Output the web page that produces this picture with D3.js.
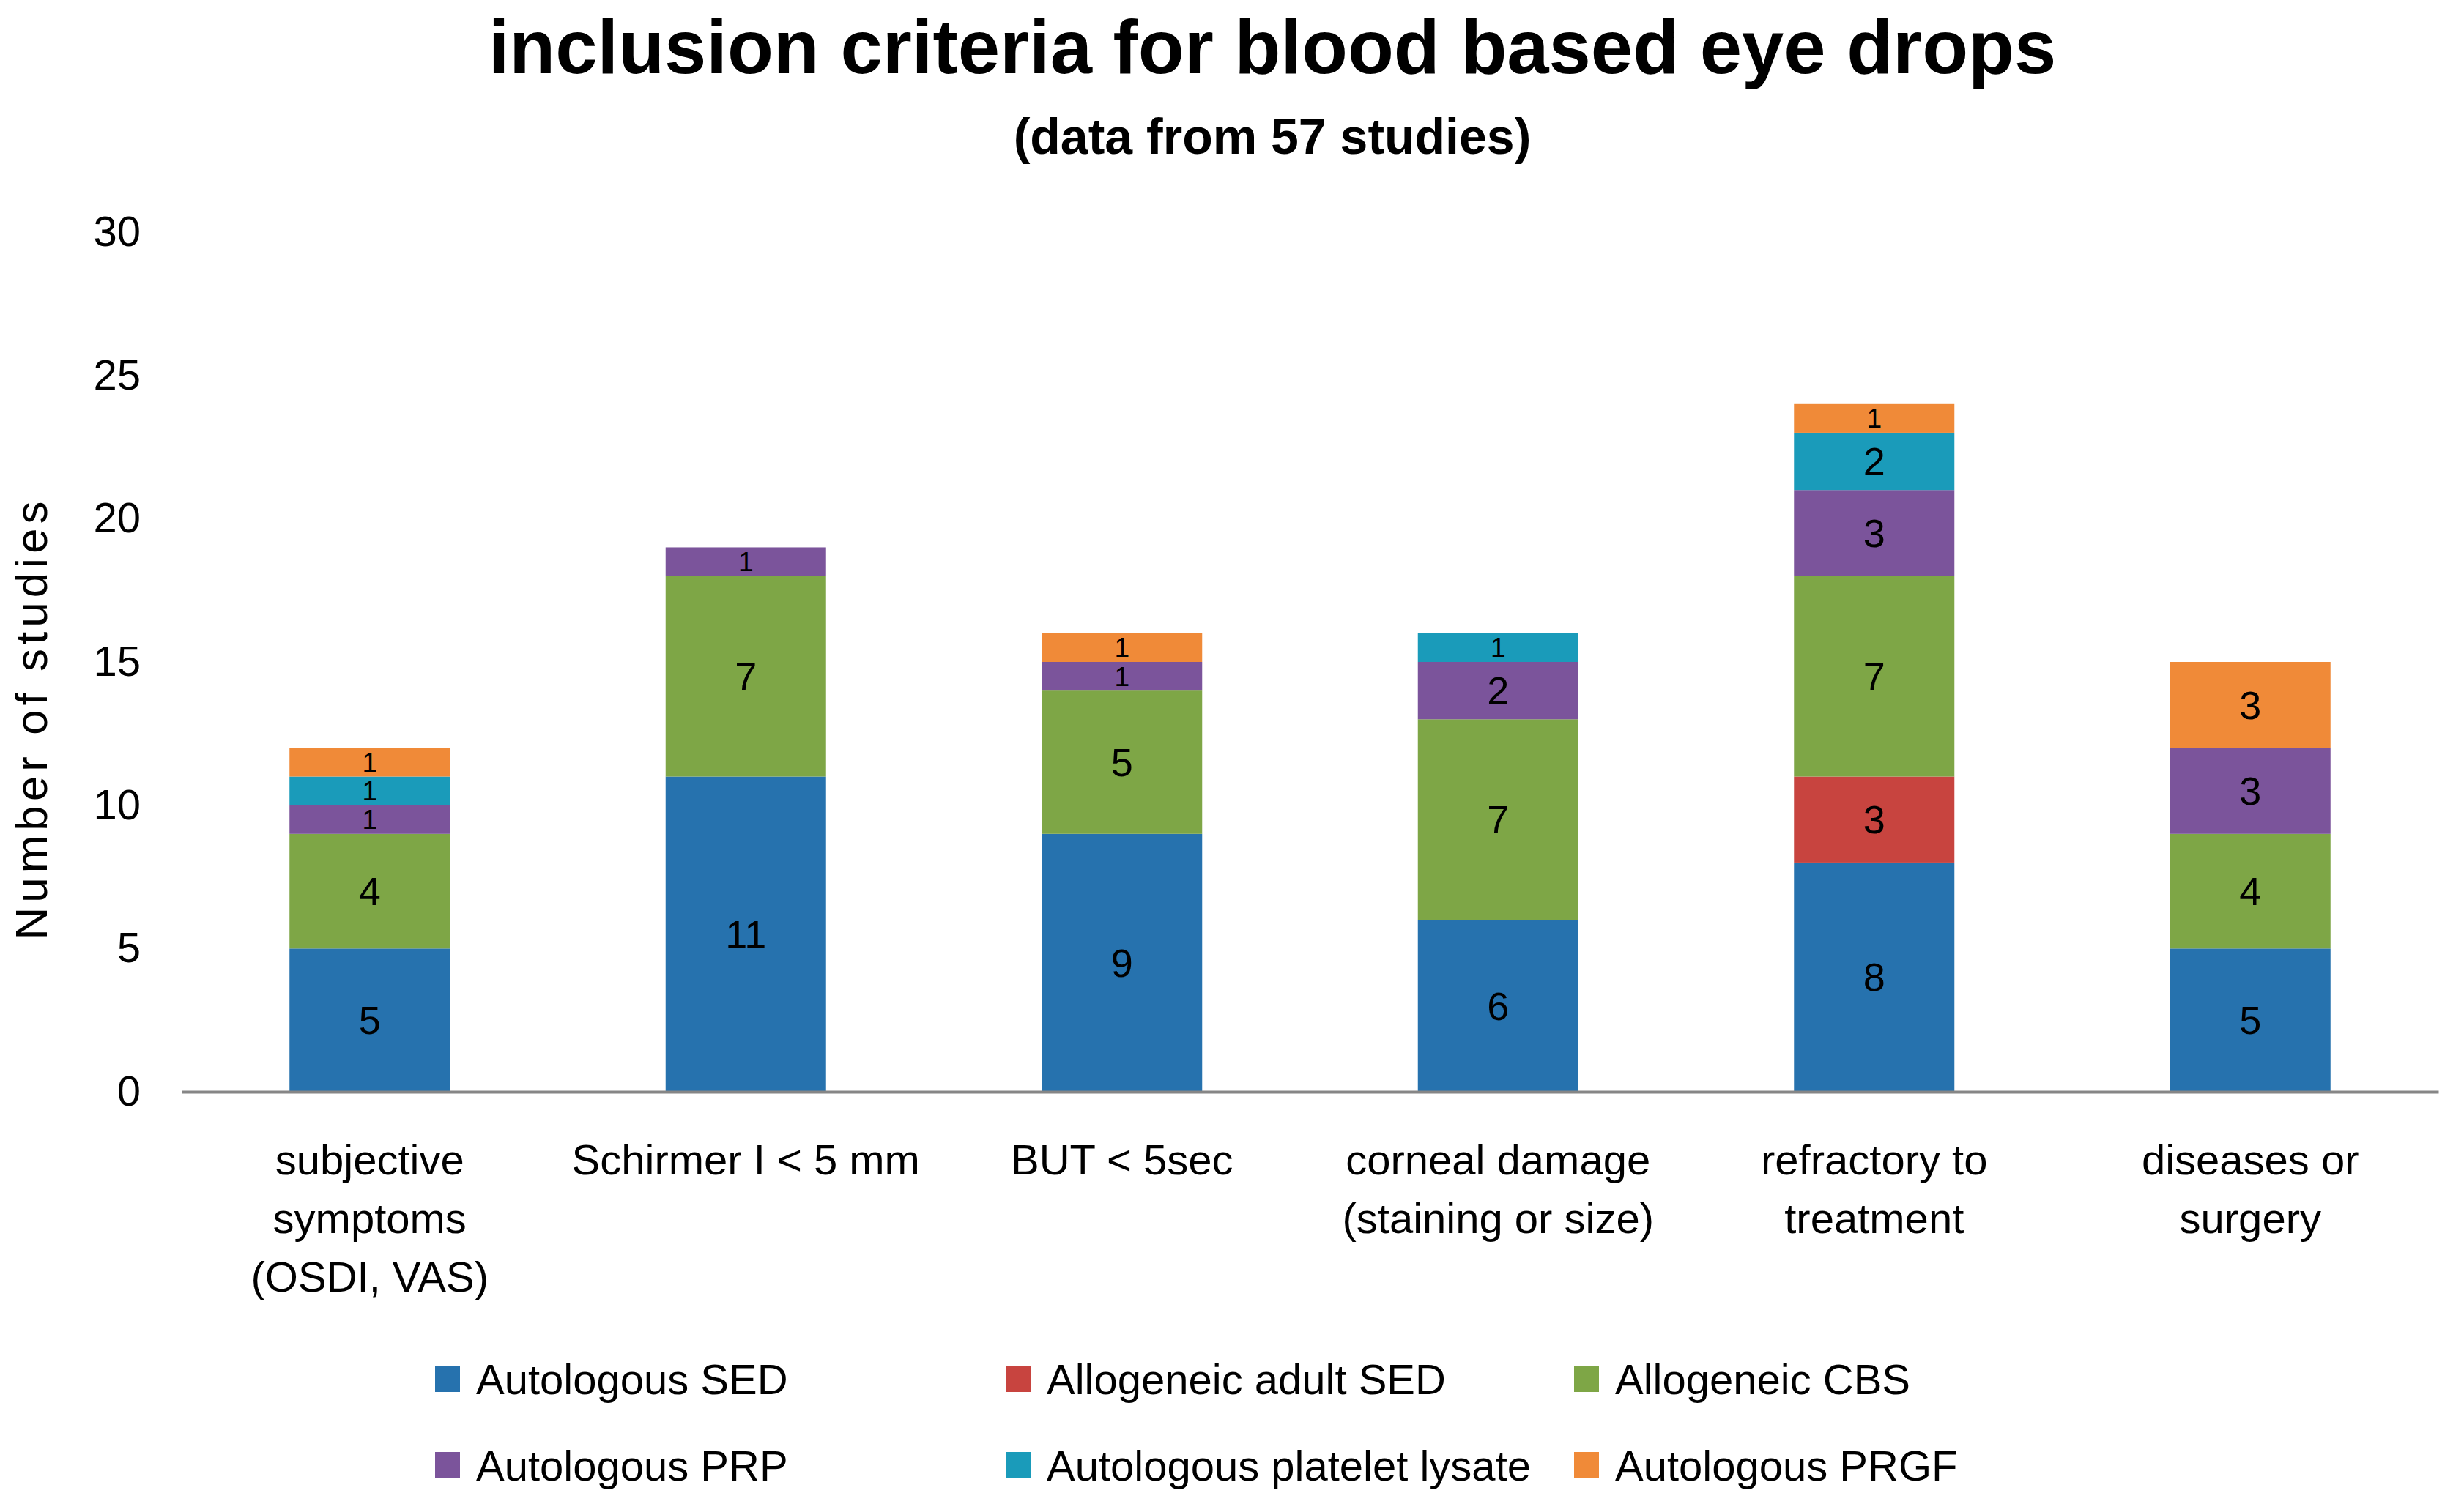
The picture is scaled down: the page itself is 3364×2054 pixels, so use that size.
<!DOCTYPE html>
<html>
<head>
<meta charset="utf-8">
<script src="https://cdn.jsdelivr.net/npm/d3@7"></script>
<style>
  html, body { margin: 0; padding: 0; background: #ffffff; }
  svg { display: block; }
  text { font-family: "Liberation Sans", Arial, sans-serif; fill: #000; }
</style>
</head>
<body>
<script>
// ---- data ----
const categories = ["subjective symptoms (OSDI, VAS)", "Schirmer I < 5 mm", "BUT < 5sec",
                    "corneal damage (staining or size)", "refractory to treatment", "diseases or surgery"];
const categoryLines = [
  ["subjective", "symptoms", "(OSDI, VAS)"],
  ["Schirmer I < 5 mm"],
  ["BUT < 5sec"],
  ["corneal damage", "(staining or size)"],
  ["refractory to", "treatment"],
  ["diseases or", "surgery"]
];
const seriesNames = ["Autologous SED", "Allogeneic adult SED", "Allogeneic CBS",
                     "Autologous PRP", "Autologous platelet lysate", "Autologous PRGF"];
const autologousSED      = [5, 11, 9, 6, 8, 5];
const allogeneicAdultSED = [0, 0, 0, 0, 3, 0];
const allogeneicCBS      = [4, 7, 5, 7, 7, 4];
const autologousPRP      = [1, 1, 1, 2, 3, 3];
const autologousLysate   = [1, 0, 0, 1, 2, 0];
const autologousPRGF     = [1, 0, 1, 0, 1, 3];
const seriesColors = ["#2672AE", "#C8443F", "#7EA646", "#7B549B", "#1A9BBA", "#F08A38"];
const yTicks = [0, 5, 10, 15, 20, 25, 30];
const titleText = "inclusion criteria for blood based eye drops";
const subtitleText = "(data from 57 studies)";
const yLabel = "Number of studies";

const seriesValues = [autologousSED, allogeneicAdultSED, allogeneicCBS,
                      autologousPRP, autologousLysate, autologousPRGF];
const table = categories.map((c, i) => {
  const row = { category: c };
  seriesNames.forEach((s, j) => row[s] = seriesValues[j][i]);
  return row;
});

// ---- layout ----
const W = 3364, H = 2054;
const svg = d3.select("body").append("svg").attr("width", W).attr("height", H);

const x = d3.scaleBand().domain(categories).range([248, 3329])
  .paddingInner(0.5735).paddingOuter(0.5735 / 2);
const y = d3.scaleLinear().domain([0, 30]).range([1491, 317]);
const color = d3.scaleOrdinal().domain(seriesNames).range(seriesColors);

// title
svg.append("text").attr("x", 1737).attr("y", 100).attr("text-anchor", "middle")
  .attr("font-size", 103).attr("font-weight", "bold").text(titleText);
svg.append("text").attr("x", 1737).attr("y", 210).attr("text-anchor", "middle")
  .attr("font-size", 68).attr("font-weight", "bold").text(subtitleText);

// y axis label
svg.append("text")
  .attr("transform", "translate(42," + 981 + ") rotate(-90)")
  .attr("text-anchor", "middle").attr("dominant-baseline", "central")
  .attr("font-size", 62).attr("letter-spacing", 6).text(yLabel);

// y axis
const yAxis = svg.append("g").attr("transform", "translate(192,0)")
  .call(d3.axisLeft(y).tickValues(yTicks).tickSize(0).tickPadding(0));
yAxis.select(".domain").remove();
yAxis.selectAll("text").attr("font-size", 58).attr("font-family", "Liberation Sans, Arial, sans-serif")
  .attr("fill", "#000");

// bars
const stack = d3.stack().keys(seriesNames);
const stacked = stack(table);

const layers = svg.append("g").selectAll("g").data(stacked).join("g")
  .attr("fill", d => color(d.key));
layers.selectAll("rect").data(d => d.map(p => ({ p, key: d.key })))
  .join("rect")
  .attr("x", d => x(d.p.data.category))
  .attr("width", x.bandwidth())
  .attr("y", d => y(d.p[1]))
  .attr("height", d => y(d.p[0]) - y(d.p[1]));

// x axis
const xAxis = svg.append("g").attr("transform", "translate(0," + y(0) + ")")
  .call(d3.axisBottom(x).tickSize(0).tickFormat(""));
xAxis.select(".domain").attr("stroke", "#868686").attr("stroke-width", 4);

// x tick labels (multi-line)
const xl = svg.append("g").selectAll("text").data(categories).join("text")
  .attr("text-anchor", "middle").attr("font-size", 58)
  .attr("x", d => x(d) + x.bandwidth() / 2)
  .attr("y", 1583).attr("dominant-baseline", "central");
xl.each(function(d, i) {
  d3.select(this).selectAll("tspan").data(categoryLines[i]).join("tspan")
    .attr("x", x(d) + x.bandwidth() / 2)
    .attr("dy", (t, k) => k === 0 ? 0 : 80)
    .text(t => t);
});

// data labels (shrink in thin segments so they fit)
const labelsG = svg.append("g");
stacked.forEach(layer => {
  layer.forEach(p => {
    const v = p[1] - p[0];
    if (v > 0) {
      const segH = y(p[0]) - y(p[1]);
      labelsG.append("text")
        .attr("x", x(p.data.category) + x.bandwidth() / 2)
        .attr("y", y((p[0] + p[1]) / 2))
        .attr("text-anchor", "middle").attr("dominant-baseline", "central")
        .attr("font-size", Math.min(54, segH * 0.95)).text(v);
    }
  });
});

// legend
const legendX = [594, 1373, 2149];
const legendY = [1883, 2001];
const leg = svg.append("g").selectAll("g").data(seriesNames).join("g")
  .attr("transform", (d, i) => "translate(" + legendX[i % 3] + "," + legendY[Math.floor(i / 3)] + ")");
leg.append("rect").attr("x", 0).attr("y", -18).attr("width", 34).attr("height", 36)
  .attr("fill", d => color(d));
leg.append("text").attr("x", 56).attr("y", 0).attr("dominant-baseline", "central")
  .attr("font-size", 58).text(d => d);
</script>
</body>
</html>
